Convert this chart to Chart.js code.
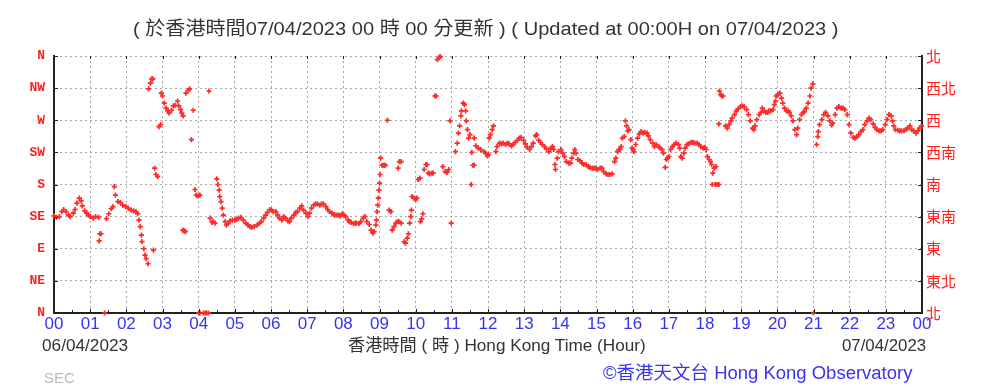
<!DOCTYPE html>
<html>
<head>
<meta charset="utf-8">
<script src="https://cdn.jsdelivr.net/npm/chart.js@4.4.0/dist/chart.umd.min.js"></script>
<style>
body { margin: 0; background: #fff; width: 983px; height: 388px; overflow: hidden; position: relative; }
#wind { position: absolute; left: 0; top: 0; }
.txt { position: absolute; white-space: nowrap; transform-origin: 0 50%; line-height: 1;
       font-family: "Liberation Sans Narrow", "Liberation Sans", "Noto Sans CJK TC", sans-serif; }
</style>
</head>
<body>
<canvas id="wind" width="983" height="388"></canvas>
<div class="txt" id="title" style="color:#333;font-size:19px">( 於香港時間07/04/2023 00 時 00 分更新 ) ( Updated at 00:00H on 07/04/2023 )</div>
<div class="txt" id="dateFrom" style="color:#333;font-size:17px">06/04/2023</div>
<div class="txt" id="axisName" style="color:#333;font-size:17px">香港時間 ( 時 ) Hong Kong Time (Hour)</div>
<div class="txt" id="dateTo" style="color:#333;font-size:17px">07/04/2023</div>
<div class="txt" id="sec" style="color:#bbb;font-size:15px">SEC</div>
<div class="txt" id="hko" style="color:#3535f0;font-size:18px">©香港天文台 Hong Kong Observatory</div>

<script>
// tick labels
const hourLabels = ['00','01','02','03','04','05','06','07','08','09','10','11','12',
                    '13','14','15','16','17','18','19','20','21','22','23','00'];
const dirLabelsEn = ['N','NE','E','SE','S','SW','W','NW','N'];
const dirLabelsZh = ['北','東北','東','東南','南','西南','西','西北','北'];

// wind direction readings: [minute of day, degrees]
const obs00to04 = [[0,136],[4,134],[9,135],[13,142],[16,145],[20,142],[24,137],[27,135],[32,140],[35,145],
  [38,154],[42,161],[45,157],[47,150],[51,143],[54,140],[57,137],[60,135],[65,133],[69,135],[74,134],
  [75,101],[76,111],[78,111],[84,0],[87,132],[91,139],[95,146],[98,149],[100,177],[102,165],[106,156],
  [110,155],[114,151],[119,149],[123,147],[128,144],[132,143],[136,142],[139,139],[141,130],[143,121],
  [145,109],[146,100],[149,90],[151,81],[153,76],[156,69],[157,314],[160,322],[162,328],[164,328],
  [165,88],[167,203],[169,194],[172,191],[174,261],[177,264],[178,308],[180,304],[183,294],[186,287],
  [189,283],[191,280],[195,284],[198,290],[201,291],[205,297],[207,290],[210,285],[212,280],[214,276],
  [214,116],[216,115],[218,114],[219,308],[223,312],[225,314],[228,243],[231,284],[234,173],[236,165],
  [239,164],[240,0]];
const obs04to08 = [[242,165],[242,0],[248,0],[251,0],[253,0],[256,0],[257,311],[259,133],[262,127],
  [264,128],[267,126],[270,188],[272,180],[274,172],[275,163],[277,156],[279,147],[281,137],[284,128],
  [286,123],[289,125],[292,129],[296,130],[300,130],[303,131],[306,133],[310,134],[314,130],[318,126],
  [322,123],[325,121],[328,120],[332,121],[337,123],[341,126],[344,128],[348,133],[351,137],[354,141],
  [358,145],[361,144],[364,142],[368,142],[371,137],[374,133],[378,130],[381,135],[384,133],[388,129],
  [391,128],[394,133],[398,137],[401,141],[404,142],[408,147],[411,150],[414,144],[418,140],[421,135],
  [424,140],[427,147],[431,151],[434,153],[437,153],[441,151],[444,153],[447,153],[451,149],[454,145],
  [457,142],[461,140],[464,138],[466,137],[469,137],[472,137],[475,136],[478,139]];
const obs08to12 = [[481,137],[484,135],[488,130],[490,128],[493,127],[497,125],[500,126],[502,126],
  [506,125],[509,128],[513,133],[516,135],[519,128],[523,124],[526,116],[529,112],[531,114],[534,123],
  [535,130],[536,142],[537,151],[538,161],[539,172],[540,182],[541,194],[542,217],[544,207],[546,207],
  [548,207],[550,207],[553,270],[556,144],[559,142],[561,116],[564,121],[567,126],[570,128],[572,128],
  [576,126],[571,203],[573,212],[576,212],[581,100],[583,98],[586,105],[588,111],[590,126],[592,135],
  [593,144],[594,163],[597,161],[600,159],[602,161],[604,187],[607,189],[608,128],[610,132],[612,139],
  [614,201],[617,208],[619,208],[621,196],[623,195],[627,196],[629,196],[632,304],[634,304],[636,355],
  [639,358],[641,359],[645,205],[649,198],[652,197],[655,201],[657,269],[659,126],[666,226],[669,238],
  [671,252],[673,262],[675,276],[676,283],[679,294],[681,292],[683,283],[684,269],[686,257],[688,245],
  [690,250],[692,180],[693,225],[695,207],[697,207],[697,245],[700,234],[704,231],[708,229],[713,226],
  [716,224],[719,220],[721,222]];
const obs12to16 = [[722,245],[724,250],[727,257],[729,262],[733,226],[735,233],[739,238],[742,237],
  [745,238],[749,236],[752,238],[755,237],[759,234],[762,236],[765,239],[769,242],[772,245],[775,246],
  [779,242],[782,237],[785,232],[789,229],[792,233],[795,238],[799,248],[801,250],[804,242],[807,239],
  [810,236],[814,233],[817,230],[821,226],[824,231],[827,233],[829,229],[831,208],[832,201],[835,217],
  [837,226],[841,229],[844,224],[847,219],[850,212],[854,210],[857,210],[859,217],[862,224],[864,229],
  [866,224],[869,215],[873,213],[876,210],[879,208],[883,208],[886,205],[889,204],[893,203],[896,203],
  [899,203],[902,201],[906,203],[909,203],[912,198],[916,195],[919,194],[922,194],[926,195],[930,212],
  [932,217],[935,226],[937,229],[939,229],[941,233],[943,245],[946,247],[948,269],[950,262],[952,255],
  [954,257],[957,243],[959,231]];
const obs16to20 = [[961,229],[962,226],[965,236],[968,245],[971,251],[974,254],[977,252],[980,253],
  [984,252],[986,248],[989,243],[993,238],[996,233],[999,236],[1003,233],[1006,231],[1009,229],
  [1011,224],[1014,204],[1016,215],[1018,217],[1020,219],[1023,229],[1026,233],[1029,236],[1032,238],
  [1036,236],[1038,231],[1040,219],[1042,217],[1045,224],[1047,231],[1050,236],[1053,237],[1057,239],
  [1060,239],[1063,238],[1067,238],[1070,236],[1073,233],[1077,231],[1080,232],[1082,229],[1084,219],
  [1087,215],[1089,212],[1091,208],[1093,196],[1095,203],[1098,205],[1092,180],[1097,180],[1100,180],
  [1103,180],[1103,265],[1104,311],[1106,306],[1108,304],[1110,304],[1114,262],[1117,259],[1120,264],
  [1123,269],[1125,273],[1129,278],[1132,283],[1135,286],[1139,289],[1142,290],[1145,289],[1149,285],
  [1152,278],[1155,269],[1159,259],[1161,257],[1163,262],[1166,271],[1170,278],[1173,281],[1175,287],
  [1178,283],[1181,281],[1184,281],[1186,283],[1189,283],[1193,285],[1195,292],[1197,297]];
const obs20to24 = [[1198,304],[1201,306],[1204,308],[1207,301],[1209,294],[1212,287],[1215,283],
  [1218,283],[1220,281],[1223,276],[1226,269],[1229,257],[1232,250],[1234,259],[1237,271],[1240,278],
  [1243,281],[1245,282],[1248,287],[1251,294],[1254,304],[1256,315],[1259,321],[1260,0],[1265,236],
  [1267,247],[1268,254],[1270,264],[1274,271],[1277,278],[1280,281],[1284,276],[1287,269],[1290,263],
  [1292,266],[1296,278],[1299,287],[1302,289],[1306,287],[1309,287],[1312,285],[1316,278],[1319,264],
  [1322,252],[1326,246],[1329,245],[1332,247],[1335,250],[1339,254],[1342,257],[1345,264],[1349,269],
  [1352,273],[1355,271],[1359,265],[1362,260],[1365,257],[1369,255],[1372,255],[1375,257],[1379,264],
  [1382,271],[1385,278],[1389,276],[1391,269],[1393,262],[1396,257],[1400,256],[1403,255],[1406,255],
  [1410,255],[1413,257],[1416,259],[1420,262],[1423,257],[1426,255],[1430,252],[1433,255],[1436,259],
  [1439,262]];

const allObs = [].concat(obs00to04, obs04to08, obs08to12, obs12to16, obs16to20, obs20to24);

// short tick marks drawn inside the frame
const innerTicks = {
  id: 'innerTicks',
  afterDraw(chart) {
    const ctx = chart.ctx;
    const x = chart.scales.x, y = chart.scales.y;
    const a = chart.chartArea;
    ctx.save();
    ctx.strokeStyle = '#222';
    ctx.lineWidth = 1;
    ctx.beginPath();
    for (let m = 0; m <= 1440; m += 30) {
      const px = Math.round(x.getPixelForValue(m)) + 0.5;
      ctx.moveTo(px, a.bottom); ctx.lineTo(px, a.bottom - (m % 60 ? 3 : 4));
      ctx.moveTo(px, a.top); ctx.lineTo(px, a.top + (m % 60 ? 0 : 3));
    }
    for (let d = 0; d <= 360; d += 45) {
      const py = Math.round(y.getPixelForValue(d)) + 0.5;
      ctx.moveTo(a.left, py); ctx.lineTo(a.left + 4, py);
      ctx.moveTo(a.right, py); ctx.lineTo(a.right - 4, py);
    }
    ctx.stroke();
    ctx.restore();
  }
};

const gridDots = { color: '#a8a8a8', lineWidth: 1, drawTicks: false };

const ctx = document.getElementById('wind').getContext('2d');
const windChart = new Chart(ctx, {
  type: 'scatter',
  data: {
    datasets: [{
      data: allObs.map(p => ({ x: p[0], y: p[1] })),
      pointStyle: 'cross',
      pointRadius: 2.6,
      pointBorderWidth: 1.7,
      borderColor: '#ff2a2a',
      backgroundColor: '#ff2a2a',
      clip: false
    }]
  },
  options: {
    responsive: false,
    animation: false,
    devicePixelRatio: 1,
    layout: { padding: { top: 56, left: 0, right: 0, bottom: 0 } },
    plugins: { legend: { display: false }, tooltip: { enabled: false } },
    scales: {
      x: {
        type: 'linear', min: 0, max: 1440,
        afterFit(scale) { scale.height = 75; },
        grid: gridDots,
        border: { display: true, color: '#222', width: 2, dash: [2, 3] },
        ticks: {
          stepSize: 60, autoSkip: false, maxRotation: 0, padding: 1,
          color: '#3535f0',
          font: { family: '"Liberation Sans Narrow", "Liberation Sans", sans-serif', size: 17 },
          callback: v => hourLabels[v / 60]
        }
      },
      y: {
        position: 'left', min: 0, max: 360,
        afterFit(scale) { scale.width = 54; },
        grid: gridDots,
        border: { display: true, color: '#222', width: 2, dash: [2, 3] },
        ticks: {
          stepSize: 45, padding: 9, color: '#ff2020',
          font: { family: '"Liberation Mono", monospace', size: 13, weight: 'bold' },
          callback: v => dirLabelsEn[v / 45]
        }
      },
      y2: {
        position: 'right', min: 0, max: 360,
        afterFit(scale) { scale.width = 61; },
        grid: { display: false, drawTicks: false },
        border: { display: true, color: '#222', width: 2 },
        ticks: {
          stepSize: 45, padding: 4, color: '#ff2020',
          font: { family: '"Noto Sans CJK TC", sans-serif', size: 15 },
          callback: v => dirLabelsZh[v / 45]
        }
      }
    }
  },
  plugins: [innerTicks]
});

// place the html texts: left edge, vertical centre, width
function place(id, left, midY, width) {
  const el = document.getElementById(id);
  const w = el.offsetWidth, h = el.offsetHeight;
  el.style.left = left + 'px';
  el.style.top = (midY - h / 2) + 'px';
  el.style.transform = 'scaleX(' + (width / w) + ')';
}
place('title', 133, 28, 705);
place('dateFrom', 42, 345, 86);
place('axisName', 348, 345, 298);
place('dateTo', 842, 345, 84);
place('sec', 44, 377, 31);
place('hko', 603, 373, 309);
</script>
</body>
</html>
